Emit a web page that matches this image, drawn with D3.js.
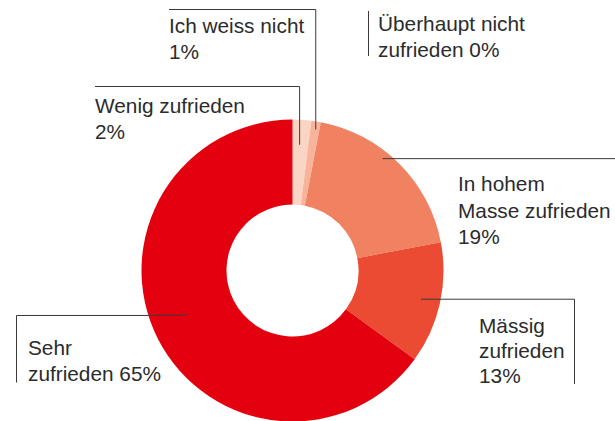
<!DOCTYPE html>
<html lang="de">
<head>
    <meta charset="UTF-8">
    <title>Zufriedenheit</title>
    <script src="https://d3js.org/d3.v7.min.js"></script>
    <style>
        body { margin: 0; background: #fff; }
        svg { display: block; }
    </style>
</head>
<body>
<svg></svg>
<script>
    // data, clockwise from 12 o'clock
    const categories = ["Wenig zufrieden", "Ich weiss nicht", "In hohem Masse zufrieden", "Mässig zufrieden", "Sehr zufrieden", "Überhaupt nicht zufrieden"];
    const values = [2, 1, 19, 13, 65, 0];
    const labelLines = [
        ["Wenig zufrieden", "2%"],
        ["Ich weiss nicht", "1%"],
        ["In hohem", "Masse zufrieden", "19%"],
        ["Mässig", "zufrieden", "13%"],
        ["Sehr", "zufrieden 65%"],
        ["Überhaupt nicht", "zufrieden 0%"]
    ];
    const colors = ["#fcd4c3", "#f8b49b", "#f08262", "#ea4b32", "#e3000f", "#fde6dc"];

    const width = 615;
    const height = 421;
    const cx = 292.5, cy = 270.5;
    const outerR = 151, innerR = 66;

    // label placement: where the leader starts in the slice (t = position inside slice, r = radius),
    // then the corner points and text position
    const layout = [
        { t: 0.45, r: 126, path: a => [[a[0], 86.5], [95, 86.5]], tx: 95, ty: 113, lh: 26, clip: null },
        { t: 0.6, r: 143, path: a => [[a[0], 9.5], [169, 9.5]], tx: 169, ty: 33, lh: 26, clip: null },
        { t: 0.41, r: 143.6, path: a => [[615, a[1]]], tx: 458, ty: 191, lh: 26.5, clip: null },
        { t: 0.5, r: 131.6, path: a => [[574.5, a[1]], [574.5, 420]], tx: 479, ty: 333, lh: 25, clip: 384 },
        { t: 0.517, r: 115, path: a => [[16.5, a[1]], [16.5, 420]], tx: 28, ty: 355, lh: 26, clip: 382.5 },
        { t: null, tx: 378, ty: 31, lh: 26, clip: null }
    ];

    const svg = d3.select("svg")
        .attr("width", width)
        .attr("height", height);

    const pie = d3.pie().sort(null).value(d => d);
    const arcs = pie(values);

    const arc = d3.arc().innerRadius(innerR).outerRadius(outerR);

    const g = svg.append("g").attr("transform", `translate(${cx},${cy})`);

    g.selectAll(".slice")
        .data(arcs.filter(d => d.value > 0))
        .join("path")
        .attr("class", "slice")
        .attr("d", arc)
        .style("fill", d => colors[d.index]);

    const defs = svg.append("defs");

    const font = "'Liberation Sans', Arial, Helvetica, sans-serif";

    arcs.forEach((d, i) => {
        const L = layout[i];
        let lab = svg.append("g");
        if (L.clip) {
            defs.append("clipPath").attr("id", "clip" + i)
                .append("rect").attr("x", 0).attr("y", 0).attr("width", width).attr("height", L.clip);
            lab.attr("clip-path", `url(#clip${i})`);
        }

        if (L.t !== null) {
            const ang = d.startAngle + L.t * (d.endAngle - d.startAngle);
            const a = [cx + L.r * Math.sin(ang), cy - L.r * Math.cos(ang)];
            const pts = [a].concat(L.path(a));
            lab.append("path")
                .attr("d", d3.line()(pts))
                .style("fill", "none")
                .style("stroke", "#3a3a3a")
                .style("stroke-width", 1);
        } else {
            // no slice for 0%, just a tick in front of the text
            lab.append("line")
                .attr("x1", 368.5).attr("x2", 368.5)
                .attr("y1", 11).attr("y2", 56)
                .style("stroke", "#3a3a3a")
                .style("stroke-width", 1);
        }

        lab.selectAll("text")
            .data(labelLines[i])
            .join("text")
            .attr("x", L.tx)
            .attr("y", (s, j) => L.ty + j * L.lh)
            .style("font-family", font)
            .style("font-size", "20.8px")
            .style("fill", "#2b2b2b")
            .text(s => s);
    });
</script>
</body>
</html>
